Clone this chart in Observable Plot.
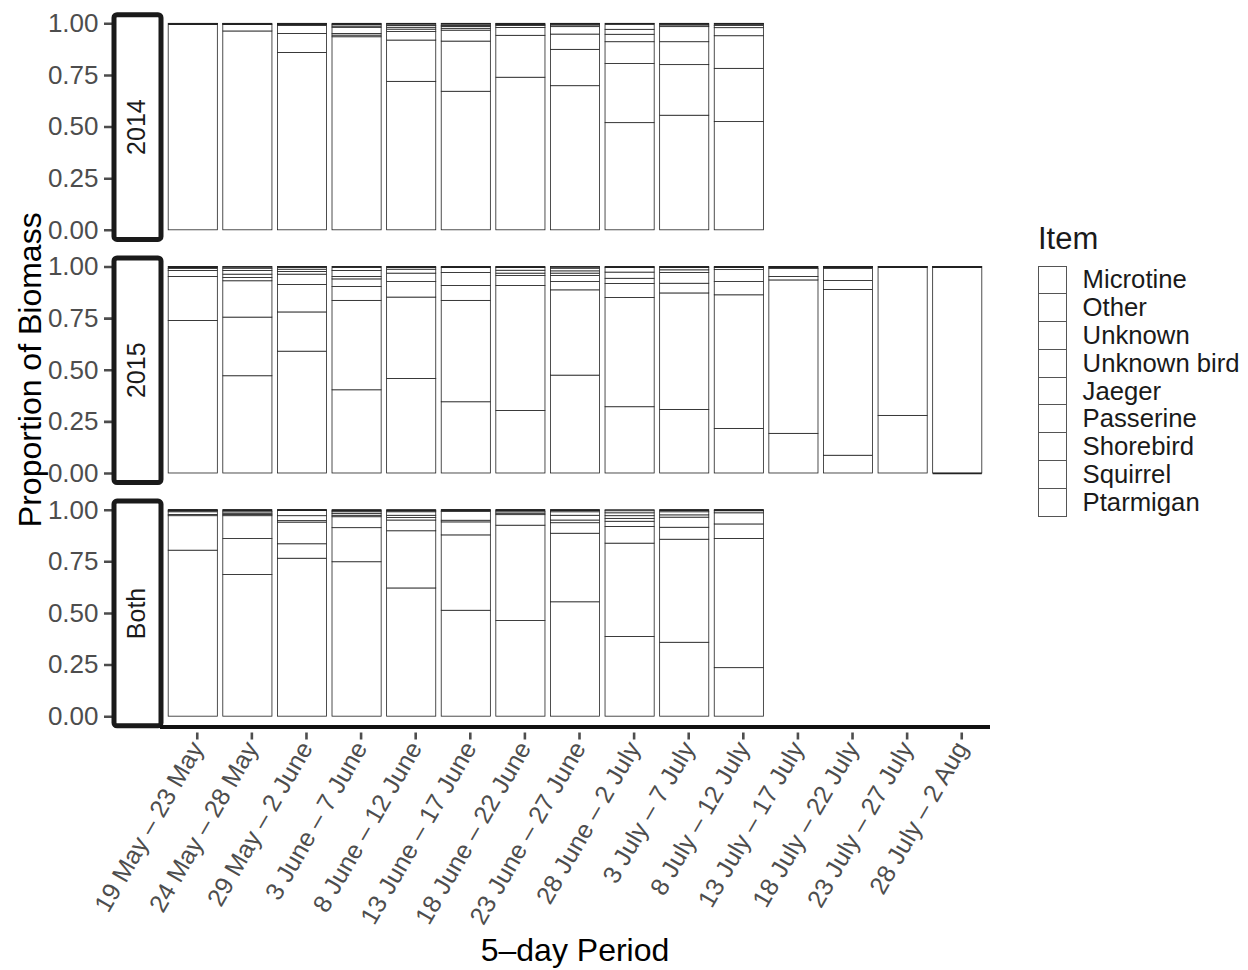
<!DOCTYPE html>
<html>
<head>
<meta charset="utf-8">
<script src="https://cdn.jsdelivr.net/npm/d3@7"></script>
<script src="https://cdn.jsdelivr.net/npm/@observablehq/plot@0.6"></script>
<style>
  html, body { margin: 0; padding: 0; background: white; }
  #wrap { position: relative; width: 1248px; height: 970px; font-family: "Liberation Sans", Arial, sans-serif; }
  #chart { position: absolute; left: 0; top: 0; }
  #legend { position: absolute; left: 1038px; top: 222px; color: #1a1a1a; }
  #legend .title { font-size: 31px; line-height: 34px; height: 44px; }
  #legend .row { display: flex; align-items: center; height: 27.8px; }
  #legend .key { width: 26.6px; height: 26.8px; border: 0.7px solid #555; border-bottom-width: 0.3px; background: white; box-sizing: content-box; }
  #legend .lab { font-size: 25.7px; margin-left: 16px; line-height: 27px; }
</style>
</head>
<body>
<div id="wrap"><div id="chart"></div><div id="legend"></div></div>
<script>
// ---- Data ----
const periods = ["19 May – 23 May", "24 May – 28 May", "29 May – 2 June", "3 June – 7 June",
  "8 June – 12 June", "13 June – 17 June", "18 June – 22 June", "23 June – 27 June",
  "28 June – 2 July", "3 July – 7 July", "8 July – 12 July", "13 July – 17 July",
  "18 July – 22 July", "23 July – 27 July", "28 July – 2 Aug"];
const facets = ["2014", "2015", "Both"];
// legend order (top of stack first)
const items = ["Microtine", "Other", "Unknown", "Unknown bird", "Jaeger", "Passerine", "Shorebird", "Squirrel", "Ptarmigan"];
const yTicks = [0, 0.25, 0.5, 0.75, 1];
const yDomain = [-0.05, 1.05];

// rows follow `items` order; columns follow `periods`
const values2014 = [
  [0, 0, 0, 0, 0, 0, 0, 0, 0, 0, 0],
  [0, 0, 0, 0, 0, 0, 0, 0, 0, 0, 0],
  [0, 0, 0, .005, .010, .010, 0, 0, 0, 0, 0],
  [0, 0, 0, .008, .009, .005, .005, .008, .029, .008, .011],
  [0, 0, .005, .006, .009, .009, .005, .008, .024, .008, .010],
  [0, 0, .005, .030, .012, .009, .010, .036, .036, .073, .039],
  [0, .005, .039, .008, .041, .053, .038, .074, .106, .111, .158],
  [0, .032, .092, .008, .200, .243, .203, .176, .286, .245, .258],
  [1, .963, .859, .935, .719, .671, .739, .698, .519, .555, .524]
];
const values2015 = [
  [0, 0, 0, 0, 0, 0, 0, 0, 0, 0, 0, 0, 0, 0, 0],
  [0, .008, 0, 0, 0, 0, 0, .008, 0, 0, 0, 0, 0, 0, 0],
  [0, .011, .013, .019, .005, 0, .005, .013, .005, .005, 0, 0, 0, 0, 0],
  [0, .018, .011, .029, .008, .005, .013, .011, .022, .011, .005, 0, 0, 0, 0],
  [.010, .016, .013, .012, .019, .024, .014, .012, .030, .013, .010, .010, .010, 0, 0],
  [.009, .016, .050, .037, .041, .063, .012, .029, .025, .052, .058, .038, .058, 0, 0],
  [.029, .176, .133, .067, .075, .072, .048, .040, .068, .047, .064, .017, .043, 0, 0],
  [.213, .284, .190, .433, .394, .491, .605, .413, .529, .564, .647, .743, .803, .721, 1],
  [.739, .471, .590, .403, .458, .345, .303, .474, .321, .308, .216, .192, .086, .279, 0]
];
const valuesBoth = [
  [0, 0, 0, 0, 0, 0, 0, 0, .005, 0, 0],
  [0, 0, 0, .005, .005, 0, 0, 0, .010, 0, 0],
  [0, .010, 0, .005, .005, 0, 0, .010, .014, .010, 0],
  [.005, .007, .029, .009, .017, .008, .010, .017, .013, .015, .005],
  [.005, .006, .024, .008, .011, .043, .007, .023, .014, .011, .010],
  [.013, .006, .007, .007, .012, .008, .007, .013, .025, .049, .054],
  [.006, .111, .105, .053, .052, .063, .051, .051, .081, .058, .070],
  [.167, .174, .070, .165, .277, .365, .462, .332, .452, .499, .626],
  [.804, .686, .765, .748, .621, .513, .463, .554, .386, .358, .235]
];

// ---- Build table (bottom of stack first) ----
const data = [];
function addFacet(facet, rows) {
  for (let i = items.length - 1; i >= 0; i--) {
    rows[i].forEach((v, j) => {
      if (v != null) data.push({facet, period: periods[j], item: items[i], value: v});
    });
  }
}
addFacet("2014", values2014);
addFacet("2015", values2015);
addFacet("Both", valuesBoth);

const W = 1000, H = 970, mL = 160, mR = 10, mT = 13, mB = 243.5;

const chart = Plot.plot({
  width: W, height: H,
  marginLeft: mL, marginRight: mR, marginTop: mT, marginBottom: mB,
  style: {fontFamily: "'Liberation Sans', Arial, sans-serif", background: "white", overflow: "visible"},
  x: {domain: periods, paddingInner: 0.1, paddingOuter: 0.15, round: false},
  y: {domain: yDomain},
  fy: {domain: facets, paddingInner: 0.066, paddingOuter: 0, axis: null, round: false},
  marks: [
    Plot.barY(data, {x: "period", y: "value", z: "item", fy: "facet", fill: "white", stroke: "#222", strokeWidth: 0.8}),
    // zero-height segments drawn as lines, as in the original
    Plot.tickY(data, Plot.stackY2({x: "period", y: "value", z: "item", fy: "facet",
      stroke: "#222", strokeWidth: 1.4, strokeOpacity: d => (d.value === 0 ? 1 : 0)})),
    Plot.axisY({ticks: yTicks, tickFormat: d3.format(".2f"), tickSize: 56, tickPadding: 6,
      fontSize: 26, color: "#4d4d4d", strokeWidth: 2.6, label: null}),
    Plot.frame({fill: "white", stroke: "#1a1a1a", strokeWidth: 5, rx: 3,
      insetLeft: -46.5, insetRight: (W - mL - mR) - 0.5, insetTop: 1.2, insetBottom: 1.2}),
    Plot.text(facets, {fy: d => d, text: d => d, frameAnchor: "left", dx: -23.5, rotate: -90,
      textAnchor: "middle", lineAnchor: "middle", fontSize: 25, fill: "#1a1a1a"}),
    Plot.axisX({tickRotate: -60, tickSize: 7, tickPadding: 4, fontSize: 25, color: "#4d4d4d",
      strokeWidth: 2.6, label: null, dx: 4, dy: 6}),
    Plot.ruleY(["Both"], {fy: d => d, y: () => yDomain[0], stroke: "#111", strokeWidth: 4})
  ]
});
document.getElementById("chart").appendChild(chart);

// axis titles
const svg = d3.select(chart);
svg.append("text")
  .attr("transform", `translate(29,${(mT + (H - mB)) / 2}) rotate(-90)`)
  .attr("text-anchor", "middle").attr("dy", "0.36em")
  .attr("font-size", 32).attr("fill", "black")
  .text("Proportion of Biomass");
svg.append("text")
  .attr("x", (mL + W - mR) / 2).attr("y", 961)
  .attr("text-anchor", "middle")
  .attr("font-size", 32).attr("fill", "black")
  .text("5–day Period");

// legend
const lg = d3.select("#legend");
lg.append("div").attr("class", "title").text("Item");
items.forEach(it => {
  const r = lg.append("div").attr("class", "row");
  r.append("div").attr("class", "key");
  r.append("div").attr("class", "lab").text(it);
});
</script>
</body>
</html>
